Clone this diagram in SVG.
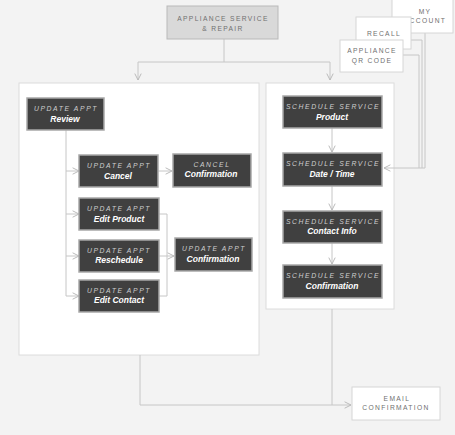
<svg xmlns="http://www.w3.org/2000/svg" width="455" height="435" viewBox="0 0 455 435">
<defs>
<marker id="arr" viewBox="0 0 10 10" refX="9" refY="5" markerWidth="8" markerHeight="8" markerUnits="userSpaceOnUse" orient="auto">
<path d="M1,1 L9,5 L1,9" fill="none" stroke="#b8b8b8" stroke-width="1.2"/>
</marker>
<style>
.bg{fill:#f3f3f3}
.cont{fill:#ffffff;stroke:#dcdcdc;stroke-width:1}
.light{fill:#ffffff;stroke:#d6d6d6;stroke-width:1}
.top{fill:#d9d9d9;stroke:#b9b9b9;stroke-width:1}
.dark{fill:#404040;stroke:#a8a8a8;stroke-width:1.5}
.lt{font-family:"Liberation Sans",Arial,sans-serif;font-size:6.7px;letter-spacing:1.35px;fill:#707070;text-anchor:middle}
.h{font-family:"Liberation Sans",Arial,sans-serif;font-size:6.8px;letter-spacing:1.6px;font-style:italic;fill:#cfcfcf;text-anchor:middle}
.s{font-family:"Liberation Sans",Arial,sans-serif;font-size:8.5px;font-weight:bold;font-style:italic;fill:#ffffff;text-anchor:middle}
.c{fill:none;stroke:#c6c6c6;stroke-width:1}
</style>
</defs>
<rect class="bg" x="0" y="0" width="455" height="435"/>
<rect class="cont" x="19" y="83" width="240" height="272"/>
<rect class="cont" x="266" y="83" width="128" height="226"/>

<g id="connectors">
<path class="c" d="M224,39 V62 M138,62 H330"/>
<path class="c" d="M138,62 V80" marker-end="url(#arr)"/>
<path class="c" d="M330,62 V80" marker-end="url(#arr)"/>
<path class="c" d="M66,130 V296"/>
<path class="c" d="M66,171 H79" marker-end="url(#arr)"/>
<path class="c" d="M66,214 H79" marker-end="url(#arr)"/>
<path class="c" d="M66,256 H79" marker-end="url(#arr)"/>
<path class="c" d="M66,296 H79" marker-end="url(#arr)"/>
<path class="c" d="M158,171 H172" marker-end="url(#arr)"/>
<path class="c" d="M159,214 H167 V296 H159"/>
<path class="c" d="M159,256 H174" marker-end="url(#arr)"/>
<path class="c" d="M332,128 V152" marker-end="url(#arr)"/>
<path class="c" d="M332,186 V210" marker-end="url(#arr)"/>
<path class="c" d="M332,243 V264" marker-end="url(#arr)"/>
<path class="c" d="M403,55 H419 V168"/>
<path class="c" d="M411,40 H422 V168"/>
<path class="c" d="M425,33 V168 H384" marker-end="url(#arr)"/>
<path class="c" d="M140,355 V405 H351" marker-end="url(#arr)"/>
<path class="c" d="M332,309 V405"/>
</g>

<g id="appliance-service">
<rect class="top" x="167" y="6" width="111" height="33"/>
<text class="lt" x="223" y="21">APPLIANCE SERVICE</text>
<text class="lt" x="223" y="31">&amp; REPAIR</text>
</g>

<g id="my-account">
<rect class="light" x="392" y="-1" width="61" height="34"/>
<text class="lt" x="425" y="14">MY</text>
<text class="lt" x="425" y="23">ACCOUNT</text>
</g>
<g id="recall">
<rect class="light" x="356" y="17" width="55" height="32"/>
<text class="lt" x="384" y="36">RECALL</text>
</g>
<g id="qr-code">
<rect class="light" x="340" y="40" width="63" height="32"/>
<text class="lt" x="372" y="53">APPLIANCE</text>
<text class="lt" x="372" y="63">QR CODE</text>
</g>

<g id="review">
<rect class="dark" x="27" y="98" width="77" height="32"/>
<text class="h" x="66" y="111">UPDATE APPT</text>
<text class="s" x="65" y="122">Review</text>
</g>
<g id="cancel">
<rect class="dark" x="79" y="155" width="79" height="32"/>
<text class="h" x="119" y="168">UPDATE APPT</text>
<text class="s" x="118" y="179">Cancel</text>
</g>
<g id="cancel-confirmation">
<rect class="dark" x="173" y="154" width="78" height="33"/>
<text class="h" x="212" y="167">CANCEL</text>
<text class="s" x="211" y="177">Confirmation</text>
</g>
<g id="edit-product">
<rect class="dark" x="79" y="198" width="80" height="32"/>
<text class="h" x="119" y="211">UPDATE APPT</text>
<text class="s" x="119" y="222">Edit Product</text>
</g>
<g id="reschedule">
<rect class="dark" x="79" y="240" width="80" height="32"/>
<text class="h" x="119" y="253">UPDATE APPT</text>
<text class="s" x="119" y="263">Reschedule</text>
</g>
<g id="edit-contact">
<rect class="dark" x="79" y="280" width="80" height="32"/>
<text class="h" x="119" y="293">UPDATE APPT</text>
<text class="s" x="119" y="303">Edit Contact</text>
</g>
<g id="update-confirmation">
<rect class="dark" x="175" y="238" width="77" height="33"/>
<text class="h" x="214" y="251">UPDATE APPT</text>
<text class="s" x="213" y="262">Confirmation</text>
</g>

<g id="product">
<rect class="dark" x="283" y="96" width="99" height="32"/>
<text class="h" x="333" y="109">SCHEDULE SERVICE</text>
<text class="s" x="332" y="120">Product</text>
</g>
<g id="date-time">
<rect class="dark" x="283" y="153" width="99" height="33"/>
<text class="h" x="333" y="166">SCHEDULE SERVICE</text>
<text class="s" x="332" y="177">Date / Time</text>
</g>
<g id="contact-info">
<rect class="dark" x="283" y="211" width="99" height="32"/>
<text class="h" x="333" y="224">SCHEDULE SERVICE</text>
<text class="s" x="332" y="234">Contact Info</text>
</g>
<g id="confirmation">
<rect class="dark" x="283" y="265" width="99" height="33"/>
<text class="h" x="333" y="278">SCHEDULE SERVICE</text>
<text class="s" x="332" y="289">Confirmation</text>
</g>

<g id="email-confirmation">
<rect class="light" x="352" y="387" width="88" height="33"/>
<text class="lt" x="397" y="401">EMAIL</text>
<text class="lt" x="396" y="410">CONFIRMATION</text>
</g>
</svg>
